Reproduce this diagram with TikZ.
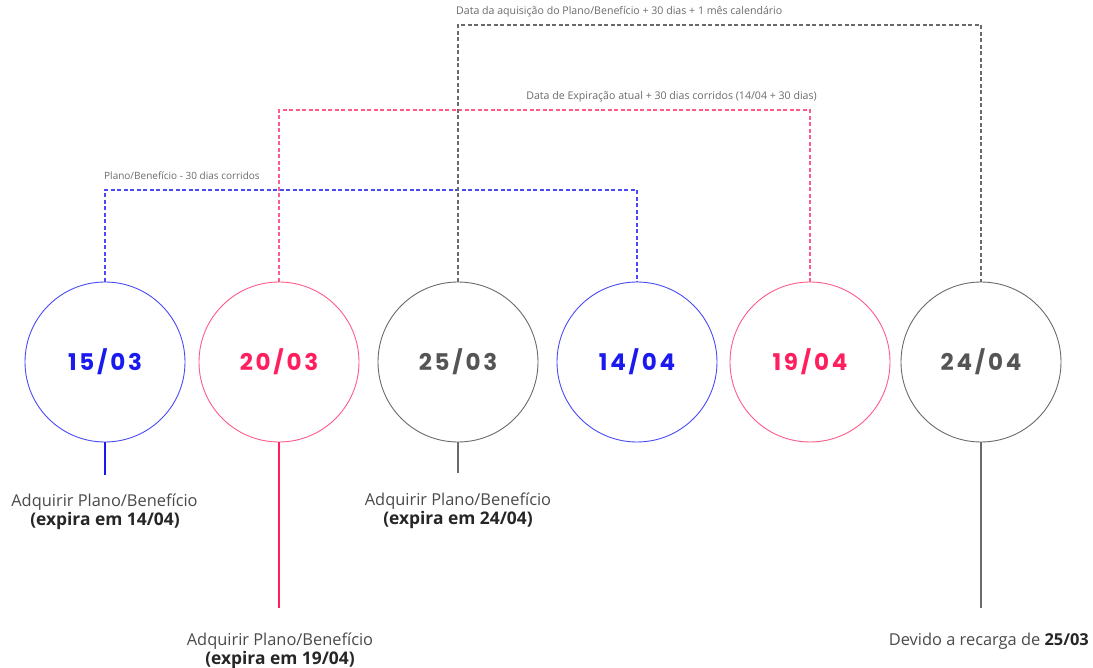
\documentclass[tikz,border=0pt]{standalone}
\usepackage{fontspec}
\setmainfont{Open Sans}
\newfontfamily\datefont[LetterSpace=12]{Poppins}
\definecolor{cblue}{HTML}{1A1AF0}
\definecolor{cbluel}{HTML}{4A4AF5}
\definecolor{cred}{HTML}{FF1F5E}
\definecolor{credl}{HTML}{FF5A88}
\definecolor{cgray}{HTML}{555555}
\definecolor{cgrayl}{HTML}{6A6A6A}
\definecolor{ctext}{HTML}{4A4A4A}
\definecolor{cdark}{HTML}{262626}
\begin{document}
\begin{tikzpicture}[x=1pt,y=-1pt,
  datecirc/.style={circle,minimum size=160pt,inner sep=0pt,line width=0.9pt,font=\datefont\bfseries\fontsize{23}{27}\selectfont},
  link/.style={line width=1.2pt,dash pattern=on 4pt off 2.5pt},
  stem/.style={line width=1.4pt},
  toplabel/.style={font=\fontsize{10.6}{12}\selectfont,text=cgrayl,inner sep=0pt},
  botlabel/.style={font=\fontsize{16.4}{20}\selectfont,text=ctext,inner sep=0pt,anchor=base},
  boldlabel/.style={font=\fontsize{17.4}{20}\selectfont\bfseries,text=cdark,inner sep=0pt,anchor=base}]
\useasboundingbox (0,0) rectangle (1093,668);
\node[datecirc,draw=cbluel,text=cblue] (a) at (105,362) {15/03};
\node[datecirc,draw=credl,text=cred] (b) at (279,362) {20/03};
\node[datecirc,draw=cgrayl,text=cgray] (c) at (458,362) {25/03};
\node[datecirc,draw=cbluel,text=cblue] (d) at (637,362) {14/04};
\node[datecirc,draw=credl,text=cred] (e) at (810,362) {19/04};
\node[datecirc,draw=cgrayl,text=cgray] (f) at (981,362) {24/04};
% dashed links
\draw[link,cbluel] (a.north) -- (105,190) -- (637,190) -- (d.north);
\draw[link,credl] (b.north) -- (279,110) -- (810,110) -- (e.north);
\draw[link,cgrayl] (c.north) -- (458,25) -- (981,25) -- (f.north);
\node[toplabel,anchor=west,font=\fontsize{10}{12}\selectfont] (ta) at (104,176) {Plano/Benefício - 30 dias corridos};
\node[toplabel,anchor=east] (tb) at (817,97) {Data de Expiração atual + 30 dias corridos (14/04 + 30 dias)};
\node[toplabel,anchor=west] (tc) at (456,12) {Data da aquisição do Plano/Benefício + 30 dias + 1 mês calendário};
% stems
\coordinate (sa) at (105,475);
\coordinate (sb) at (279,608);
\coordinate (sc) at (458,473);
\coordinate (sf) at (981,608);
\draw[stem,cblue] (a.south) -- (sa);
\draw[stem,cred] (b.south) -- (sb);
\draw[stem,cgrayl] (c.south) -- (sc);
\draw[stem,cgrayl] (f.south) -- (sf);
\node[botlabel] (la1) at (104.5,506) {Adquirir Plano/Benefício};
\node[boldlabel] (la2) at (105,525) {(expira em 14/04)};
\node[botlabel] (lb1) at (280,645) {Adquirir Plano/Benefício};
\node[boldlabel] (lb2) at (280,664) {(expira em 19/04)};
\node[botlabel] (lc1) at (458,505) {Adquirir Plano/Benefício};
\node[boldlabel] (lc2) at (458,524) {(expira em 24/04)};
\node[botlabel,anchor=base east] (lf) at (1089,645) {Devido a recarga de {\color{cdark}\bfseries 25/03}};
\end{tikzpicture}
\end{document}
